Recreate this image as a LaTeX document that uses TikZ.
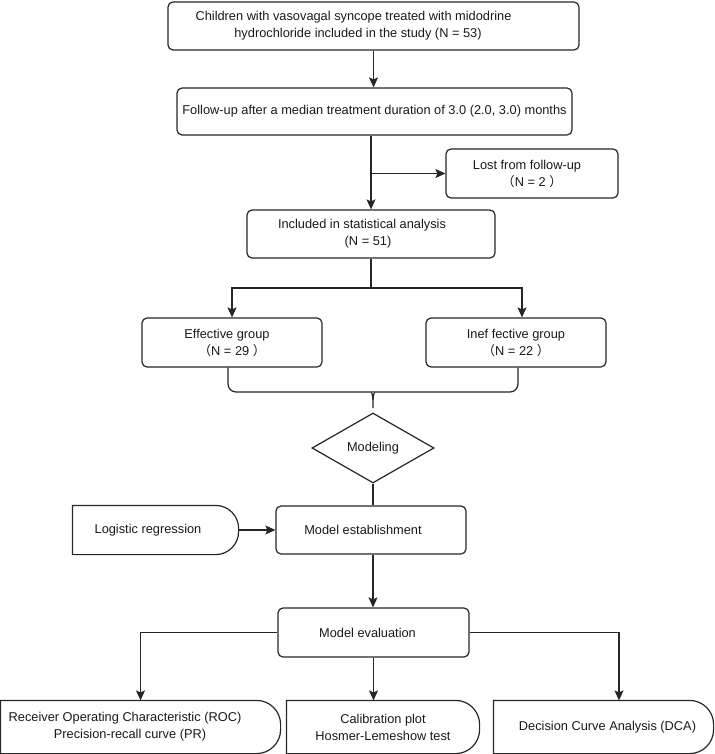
\documentclass[tikz,border=0pt]{standalone}
\usepackage{fontspec}
\setmainfont{Liberation Sans}
\newfontfamily\cjk{Noto Sans CJK SC}
\usetikzlibrary{shapes.geometric,arrows.meta}
\newcommand\RoundEnd[2]{\draw (#1.north west) -- ([xshift=-#2]#1.north east) arc[start angle=90,end angle=0,radius=#2] -- ([yshift=#2]#1.south east) arc[start angle=0,end angle=-90,radius=#2] -- (#1.south west) -- cycle;}
\begin{document}
\begin{tikzpicture}[x=1pt,y=1pt, line width=1.2pt, draw=black!85, text=black!90,
  txt/.style={align=center, inner sep=0pt, font=\fontsize{12.8}{17}\selectfont},
  box/.style={txt, draw, rounded corners=5pt},
  rbox/.style={txt, minimum height=52pt},
  arr/.style={-{Stealth[length=10pt,width=9pt,inset=2pt]}},
]
\useasboundingbox (0,0) rectangle (714,-754);

\node[box, minimum width=411pt, minimum height=48pt] (b1) at (373.5,-26)
  {Children with vasovagal syncope treated with midodrine\hspace*{40pt}\\hydrochloride included in the study (N = 53)\hspace*{31pt}};
\node[box, minimum width=395pt, minimum height=47pt] (b2) at (374.5,-111.5)
  {Follow-up after a median treatment duration of 3.0 (2.0, 3.0) months};
\node[box, minimum width=172pt, minimum height=49pt] (lost) at (532,-173.5)
  {Lost from follow-up\hspace*{10pt}\\{\cjk （}N = 2 {\cjk ）}};
\node[box, minimum width=248pt, minimum height=48pt] (b3) at (371,-234)
  {Included in statistical analysis\hspace*{18pt}\\(N = 51)\hspace*{6pt}};
\node[box, minimum width=180pt, minimum height=49pt] (eff) at (232,-342.5)
  {Effective group\hspace*{10pt}\\{\cjk （}N = 29 {\cjk ）}};
\node[box, minimum width=180pt, minimum height=49pt] (ineff) at (516,-342.5)
  {Inef fective group\\{\cjk （}N = 22 {\cjk ）}};
\node[txt, draw, diamond, minimum width=122pt, minimum height=70pt, shape aspect=1.74] (mod) at (373,-448) {Modeling};
\node[box, minimum width=190pt, minimum height=48pt] (est) at (371,-530) {Model establishment\hspace*{16pt}};
\node[txt, minimum width=165pt, minimum height=48pt] (log) at (155.5,-530) {Logistic regression\hspace*{15pt}};
\RoundEnd{log}{23pt}
\node[box, minimum width=191pt, minimum height=49pt] (eval) at (373.5,-632.5) {Model evaluation\hspace*{12pt}};
\node[rbox, minimum width=279pt] (roc) at (140.5,-727)
  {Receiver Operating Characteristic (ROC)\hspace*{31pt}\\Precision-recall curve (PR)\hspace*{21pt}};
\RoundEnd{roc}{24pt}
\node[rbox, minimum width=192pt] (cal) at (383,-727)
  {Calibration plot\\Hosmer-Lemeshow test};
\RoundEnd{cal}{24pt}
\node[rbox, minimum width=219pt] (dca) at (603.5,-727)
  {Decision Curve Analysis (DCA)\hspace*{-8pt}};
\RoundEnd{dca}{24pt}

% connectors
\draw[arr] (b1.south) -- (b1.south |- b2.north);
\draw[arr] (b3.north |- b2.south) -- (b3.north);
\coordinate (br) at (b3.north |- lost.west);
\draw[arr] (br) -- (lost.west);
\coordinate (sp) at (372,-288);
\draw (b3.south) -- (b3.south |- sp);
\draw[arr] (b3.south |- sp) -| (eff.north);
\draw[arr] (b3.south |- sp) -| ([xshift=6pt]ineff.north);
% brace
\coordinate (bt) at (373,-408);
\draw[rounded corners=8pt] ([xshift=-4pt]eff.south) -- (228,-392) -- (364,-392) [sharp corners] .. controls (371,-392) and (373,-395) .. (373,-400) -- (bt);
\draw[rounded corners=8pt] ([xshift=2pt]ineff.south) -- (518,-392) -- (382,-392) [sharp corners] .. controls (375,-392) and (373,-395) .. (373,-400);
\draw (mod.south) -- (mod.south |- est.north);
\draw[arr] (log.east) -- (est.west);
\draw[arr] (mod.south |- est.south) -- (mod.south |- eval.north);
\draw[arr] (eval.west) -| (roc.north);
\draw[arr] (eval.south) -- (eval.south |- cal.north);
\draw[arr] (eval.east) -| ([xshift=15.5pt]dca.north);
\end{tikzpicture}
\end{document}
